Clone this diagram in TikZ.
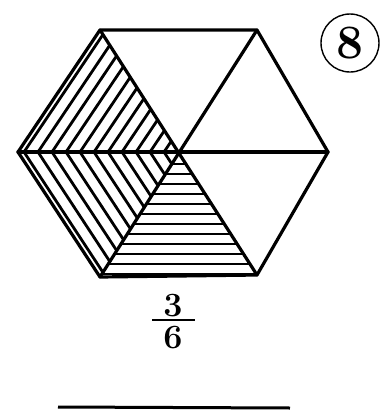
\documentclass[tikz,border=0pt]{standalone}
\begin{document}
\begin{tikzpicture}[x=1pt,y=-1pt,
  edge/.style={line width=3.2pt,line join=round,line cap=round},
  hatch/.style={line width=2.8pt,line cap=round},
  digit/.style={inner sep=0pt,font=\fontsize{34}{34}\selectfont\bfseries}]
\useasboundingbox (0,0) rectangle (385,416);
\coordinate (L) at (18,152);
\coordinate (TL) at (100,30);
\coordinate (TR) at (257,30);
\coordinate (R) at (328,152);
\coordinate (BR) at (257,275);
\coordinate (BL) at (100,277);
\coordinate (C) at (178,152);
% hatching upper-left triangle
\begin{scope}
\clip (L) -- (TL) -- (C) -- cycle;
\foreach \x in {24,38,...,180} \draw[hatch] (\x,152) -- ++(82,-122);
\end{scope}
% hatching lower-left triangle
\begin{scope}
\clip (L) -- (BL) -- (C) -- cycle;
\foreach \x in {24,38,...,180} \draw[hatch] (\x,152) -- ++(82,125);
\end{scope}
% hatching bottom triangle
\begin{scope}
\clip (C) -- (BL) -- (BR) -- cycle;
\foreach \y in {164,174,...,276} \draw[hatch] (90,\y) -- (270,\y);
\end{scope}
% hexagon and diagonals
\draw[edge] (L) -- (TL) -- (TR) -- (R) -- (BR) -- (BL) -- cycle;
\draw[edge] (L) -- (R);
\draw[edge] (TL) -- (BR);
\draw[edge] (TR) -- (BL);
% circled 8
\node[draw,circle,line width=1.4pt,minimum size=58pt,inner sep=0pt,
  font=\fontsize{48}{48}\selectfont\bfseries] (num) at (350,43) {8};
% fraction
\node[digit] (three) at (173,306) {3};
\node[digit] (six) at (173,338) {6};
\coordinate (barL) at (152,320);
\coordinate (barR) at (195,320);
\draw[line width=2.6pt] (barL) -- (barR);
% answer line
\coordinate (ansL) at (58,407);
\coordinate (ansR) at (290,408);
\draw[line width=3pt] (ansL) -- (ansR);
\end{tikzpicture}
\end{document}
